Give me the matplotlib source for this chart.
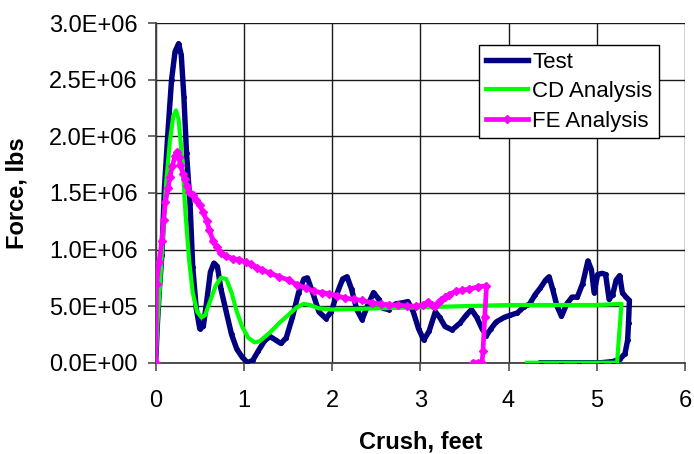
import matplotlib

matplotlib.use("Agg")

import matplotlib.pyplot as plt
import numpy as np
from matplotlib.ticker import FuncFormatter, MultipleLocator

plt.rcParams["font.family"] = ["Liberation Sans", "DejaVu Sans"]

# crush in feet, force in millions of lbs
test_crush = [
    0.00, 0.02, 0.04, 0.07, 0.10, 0.14, 0.18, 0.22, 0.26, 0.29, 0.32, 0.35,
    0.39, 0.42, 0.46, 0.50, 0.54, 0.58, 0.62, 0.66, 0.70, 0.74, 0.80, 0.86,
    0.92, 0.98, 1.04, 1.10, 1.16, 1.24, 1.30, 1.36, 1.42, 1.48, 1.55, 1.62,
    1.68, 1.72, 1.78, 1.85, 1.93, 1.99, 2.06, 2.12, 2.17, 2.22, 2.28, 2.34,
    2.40, 2.47, 2.53, 2.58, 2.64, 2.72, 2.80, 2.86, 2.92, 2.98, 3.04, 3.10,
    3.17, 3.22, 3.28, 3.36, 3.45, 3.52, 3.58, 3.64, 3.70, 3.75, 3.80, 3.86,
    3.95, 4.02, 4.10, 4.17, 4.24, 4.30, 4.36, 4.42, 4.46, 4.50, 4.55, 4.60,
    4.66, 4.72, 4.78, 4.84, 4.90, 4.94, 4.97, 5.01, 5.06, 5.10, 5.14, 5.18,
    5.22, 5.26, 5.29, 5.33, 5.37, 5.36, 5.35, 5.32, 5.26, 5.18, 5.05, 4.80,
    4.60, 4.37,
]
test_force = [
    0.00, 0.35, 0.62, 0.95, 1.55, 2.05, 2.50, 2.75, 2.82, 2.72, 2.35, 1.85,
    1.40, 0.85, 0.48, 0.30, 0.32, 0.55, 0.80, 0.88, 0.85, 0.65, 0.45, 0.25,
    0.12, 0.05, 0.00, 0.02, 0.10, 0.20, 0.23, 0.20, 0.17, 0.22, 0.40, 0.62,
    0.74, 0.75, 0.62, 0.45, 0.39, 0.45, 0.62, 0.74, 0.76, 0.65, 0.47, 0.38,
    0.50, 0.62, 0.56, 0.48, 0.47, 0.52, 0.53, 0.54, 0.45, 0.30, 0.20, 0.28,
    0.45, 0.40, 0.32, 0.29, 0.35, 0.42, 0.47, 0.40, 0.30, 0.24, 0.30, 0.36,
    0.40, 0.42, 0.44, 0.49, 0.52, 0.60, 0.66, 0.73, 0.76, 0.65, 0.50, 0.41,
    0.52, 0.58, 0.58, 0.70, 0.90, 0.82, 0.62, 0.78, 0.79, 0.78, 0.56, 0.60,
    0.73, 0.77, 0.62, 0.58, 0.55, 0.35, 0.20, 0.08, 0.03, 0.01, 0.00, 0.00,
    0.00, 0.00,
]

cd_crush = [
    0.00, 0.02, 0.05, 0.08, 0.12, 0.16, 0.20, 0.23, 0.26, 0.30, 0.34, 0.38,
    0.42, 0.47, 0.52, 0.56, 0.62, 0.68, 0.74, 0.80, 0.86, 0.92, 0.98, 1.05,
    1.12, 1.18, 1.30, 1.40, 1.50, 1.60, 1.68, 1.75, 1.85, 2.00, 2.50, 3.00,
    3.50, 4.00, 4.50, 5.00, 5.28, 5.23, 4.80, 4.21,
]
cd_force = [
    0.00, 0.35, 0.70, 1.10, 1.60, 1.95, 2.18, 2.23, 2.15, 1.80, 1.30, 0.90,
    0.62, 0.45, 0.40, 0.42, 0.55, 0.68, 0.75, 0.74, 0.62, 0.45, 0.32, 0.22,
    0.18, 0.19, 0.27, 0.35, 0.42, 0.49, 0.52, 0.51, 0.48, 0.47, 0.48, 0.49,
    0.50, 0.51, 0.51, 0.51, 0.52, 0.00, 0.00, 0.00,
]

fe_crush = [
    0.00, 0.01, 0.04, 0.07, 0.09, 0.11, 0.14, 0.16, 0.19, 0.22, 0.24, 0.26,
    0.28, 0.31, 0.33, 0.35, 0.38, 0.42, 0.46, 0.50, 0.54, 0.58, 0.61, 0.65,
    0.69, 0.74, 0.80, 0.88, 0.95, 1.02, 1.08, 1.15, 1.21, 1.30, 1.40, 1.51,
    1.60, 1.70, 1.80, 1.88, 1.97, 2.06, 2.15, 2.25, 2.34, 2.45, 2.55, 2.65,
    2.75, 2.85, 2.95, 3.03, 3.09, 3.13, 3.17, 3.21, 3.24, 3.28, 3.32, 3.40,
    3.47, 3.55, 3.65, 3.75, 3.73, 3.71, 3.70, 3.65, 3.60,
]
fe_force = [
    0.00, 0.70, 0.89, 1.08, 1.26, 1.42, 1.54, 1.64, 1.74, 1.83, 1.86, 1.82,
    1.75, 1.67, 1.62, 1.56, 1.51, 1.48, 1.44, 1.39, 1.33, 1.25, 1.17, 1.08,
    1.02, 0.97, 0.94, 0.92, 0.91, 0.89, 0.87, 0.84, 0.82, 0.79, 0.76, 0.73,
    0.69, 0.66, 0.63, 0.62, 0.61, 0.59, 0.57, 0.56, 0.55, 0.53, 0.52, 0.51,
    0.51, 0.50, 0.50, 0.51, 0.54, 0.51, 0.50, 0.54, 0.55, 0.58, 0.60, 0.63,
    0.64, 0.65, 0.67, 0.68, 0.40, 0.10, 0.00, 0.00, 0.00,
]

series_labels = ["Test", "CD Analysis", "FE Analysis"]

C_TEST = "#000080"
C_CD = "#00ff00"
C_FE = "#ff00ff"
FS = 17

fig = plt.figure(figsize=(6.94, 4.54), dpi=100)
ax = fig.add_axes([0.2243, 0.2011, 0.7627, 0.7476])

ax.plot(
    test_crush,
    np.array(test_force) * 1e6,
    color=C_TEST,
    linewidth=3.9,
    marker="o",
    markersize=2.5,
    label=series_labels[0],
    zorder=3,
)
ax.plot(
    cd_crush,
    np.array(cd_force) * 1e6,
    color=C_CD,
    linewidth=3.0,
    label=series_labels[1],
    zorder=4,
)
ax.plot(
    fe_crush,
    np.array(fe_force) * 1e6,
    color=C_FE,
    linewidth=3.4,
    marker="D",
    markersize=4.5,
    label=series_labels[2],
    zorder=5,
)

ax.set_xlim(0, 6)
ax.set_ylim(0, 3.0e6)
ax.xaxis.set_major_locator(MultipleLocator(1))
ax.yaxis.set_major_locator(MultipleLocator(0.5e6))
ax.yaxis.set_major_formatter(FuncFormatter(lambda v, _: f"{v:.1E}"))

ax.grid(True, color="0.1", linewidth=1.0, zorder=0)
ax.set_axisbelow(True)
for side in ("top", "right"):
    ax.spines[side].set_visible(False)
for side in ("left", "bottom"):
    ax.spines[side].set_color("0.25")
    ax.spines[side].set_linewidth(1.3)

ax.tick_params(axis="both", direction="out", length=6, width=1.1,
               colors="0.25", labelcolor="black", labelsize=FS)
ax.tick_params(axis="x", pad=14)
ax.tick_params(axis="y", pad=7)

ax.set_xlabel("Crush, feet", fontsize=FS, fontweight="bold")
ax.set_ylabel("Force, lbs", fontsize=FS, fontweight="bold")
ax.xaxis.set_label_coords(0.5, -0.235)
ax.xaxis.label.set_verticalalignment("center")
ax.yaxis.set_label_coords(-0.262, 0.5)
ax.yaxis.label.set_verticalalignment("center")

leg = ax.legend(
    loc="upper right",
    bbox_to_anchor=(0.951, 0.936),
    borderaxespad=0,
    fontsize=16,
    frameon=True,
    fancybox=False,
    framealpha=1,
    edgecolor="black",
    handlelength=1.9,
    handletextpad=0.2,
    labelspacing=0.38,
    borderpad=0.3,
)
leg.get_frame().set_linewidth(1.0)

fig.savefig("out.png", dpi=100)
